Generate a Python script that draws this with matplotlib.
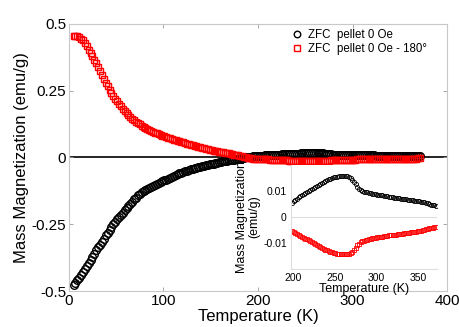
import numpy as np
import matplotlib

matplotlib.use("Agg")
import matplotlib.pyplot as plt

plt.rcParams["font.family"] = ["Liberation Sans", "DejaVu Sans"]

# temperature sweep (K), 2 K steps
temperature = np.arange(5, 372, 2)

# ZFC pellet 0 Oe (emu/g)
m_zfc = [
    -0.478, -0.469, -0.459, -0.450, -0.440, -0.429, -0.418, -0.406, -0.394, -0.383,
    -0.371, -0.360, -0.348, -0.337, -0.326, -0.315, -0.304, -0.292, -0.281, -0.270,
    -0.259, -0.248, -0.240, -0.232, -0.224, -0.216, -0.207, -0.198, -0.190, -0.182,
    -0.173, -0.165, -0.157, -0.150, -0.142, -0.136, -0.130, -0.125, -0.121, -0.117,
    -0.113, -0.109, -0.106, -0.103, -0.099, -0.096, -0.093, -0.089, -0.086, -0.083,
    -0.079, -0.076, -0.073, -0.069, -0.066, -0.063, -0.060, -0.057, -0.054, -0.052,
    -0.049, -0.046, -0.044, -0.042, -0.040, -0.038, -0.036, -0.034, -0.032, -0.031,
    -0.029, -0.027, -0.026, -0.024, -0.023, -0.021, -0.020, -0.018, -0.017, -0.015,
    -0.014, -0.013, -0.011, -0.010, -0.009, -0.0077, -0.0063, -0.005, -0.0037, -0.0023,
    -0.001, 0.0003, 0.0013, 0.0022, 0.0031, 0.0040, 0.0048, 0.0055, 0.0061, 0.0066,
    0.0071, 0.0076, 0.0081, 0.0085, 0.0089, 0.0093, 0.0096, 0.0100, 0.0103, 0.0107,
    0.0111, 0.0115, 0.0119, 0.0123, 0.0128, 0.0132, 0.0136, 0.0140, 0.0143, 0.0146,
    0.0148, 0.0150, 0.0152, 0.0153, 0.0154, 0.0156, 0.0157, 0.0158, 0.0158, 0.0158,
    0.0156, 0.0153, 0.0150, 0.0144, 0.0136, 0.0127, 0.0117, 0.0109, 0.0104, 0.0100,
    0.0098, 0.0096, 0.0095, 0.0093, 0.0091, 0.0090, 0.0088, 0.0087, 0.0086, 0.0085,
    0.0084, 0.0083, 0.0081, 0.0080, 0.0079, 0.0078, 0.0077, 0.0076, 0.0075, 0.0074,
    0.0073, 0.0072, 0.0071, 0.0070, 0.0069, 0.0068, 0.0067, 0.0066, 0.0065, 0.0064,
    0.0063, 0.0062, 0.0061, 0.0060, 0.0059, 0.0058, 0.0056, 0.0054, 0.0052, 0.0050,
    0.0048, 0.0047, 0.0045, 0.0043,
]

# ZFC pellet 0 Oe, sample rotated 180 deg (emu/g)
m_zfc_180 = [
    0.455, 0.456, 0.454, 0.450, 0.445, 0.438, 0.428, 0.416, 0.404, 0.392,
    0.379, 0.365, 0.352, 0.337, 0.323, 0.308, 0.294, 0.280, 0.267, 0.254,
    0.242, 0.230, 0.220, 0.210, 0.200, 0.191, 0.182, 0.173, 0.166, 0.158,
    0.152, 0.145, 0.139, 0.134, 0.129, 0.124, 0.119, 0.115, 0.111, 0.107,
    0.103, 0.099, 0.096, 0.093, 0.090, 0.087, 0.084, 0.081, 0.079, 0.076,
    0.073, 0.071, 0.069, 0.067, 0.065, 0.063, 0.061, 0.058, 0.056, 0.054,
    0.052, 0.050, 0.048, 0.046, 0.044, 0.042, 0.040, 0.038, 0.036, 0.034,
    0.032, 0.030, 0.029, 0.027, 0.026, 0.024, 0.023, 0.021, 0.020, 0.019,
    0.017, 0.016, 0.015, 0.013, 0.012, 0.0107, 0.0093, 0.008, 0.006, 0.004,
    0.002, 0.0003, -0.0012, -0.0025, -0.0035, -0.0042, -0.0048, -0.0053, -0.0057, -0.0061,
    -0.0065, -0.0069, -0.0073, -0.0076, -0.0080, -0.0083, -0.0086, -0.0090, -0.0093, -0.0096,
    -0.0100, -0.0103, -0.0107, -0.0111, -0.0115, -0.0118, -0.0122, -0.0125, -0.0128, -0.0131,
    -0.0133, -0.0136, -0.0138, -0.0140, -0.0141, -0.0142, -0.0143, -0.0144, -0.0144, -0.0144,
    -0.0143, -0.0142, -0.0139, -0.0134, -0.0126, -0.0118, -0.0109, -0.0102, -0.0097, -0.0094,
    -0.0091, -0.0089, -0.0087, -0.0085, -0.0084, -0.0082, -0.0081, -0.0080, -0.0078, -0.0077,
    -0.0076, -0.0075, -0.0074, -0.0073, -0.0072, -0.0071, -0.0071, -0.0070, -0.0069, -0.0068,
    -0.0067, -0.0066, -0.0065, -0.0064, -0.0063, -0.0062, -0.0061, -0.0060, -0.0059, -0.0058,
    -0.0057, -0.0056, -0.0054, -0.0053, -0.0052, -0.0050, -0.0049, -0.0047, -0.0046, -0.0044,
    -0.0042, -0.0041, -0.0039, -0.0038,
]

labels = ["ZFC  pellet 0 Oe", "ZFC  pellet 0 Oe - 180°"]

m_zfc = np.array(m_zfc)
m_zfc_180 = np.array(m_zfc_180)
spine_grey = "#c8c8c8"

fig = plt.figure(figsize=(4.59, 3.27), dpi=100)
ax = fig.add_axes([0.150, 0.110, 0.824, 0.817])

ax.plot(temperature, m_zfc, "o", mfc="none", mec="black", ms=5.5, mew=1.0,
        label=labels[0])
ax.plot(temperature, m_zfc_180, "s", mfc="none", mec="red", ms=5, mew=1.0,
        label=labels[1])
ax.axhline(0, color="black", lw=1.2, zorder=0)

ax.set_xlim(0, 400)
ax.set_ylim(-0.5, 0.5)
ax.set_xticks([0, 100, 200, 300, 400])
ax.set_yticks([-0.5, -0.25, 0, 0.25, 0.5])
ax.set_yticklabels(["-0.5", "-0.25", "0", "0.25", "0.5"])
ax.tick_params(direction="in", length=3, width=0.6, color="#999999",
               labelsize=11, top=True, right=True, pad=2)
for s in ax.spines.values():
    s.set_color(spine_grey)
    s.set_linewidth(0.8)
ax.set_xlabel("Temperature (K)", fontsize=12, labelpad=1)
ax.set_ylabel("Mass Magnetization (emu/g)", fontsize=12, labelpad=2)

ax.legend(loc="upper left", bbox_to_anchor=(0.574, 0.998), frameon=False,
          fontsize=8.3, handletextpad=0.35, labelspacing=0.15, borderaxespad=0,
          markerscale=0.85, handlelength=1.2)

# inset: zoom on 200-370 K
ins = fig.add_axes([291 / 459, 1 - 269 / 327, 146 / 459, 104 / 327])
ins.set_facecolor("white")
sel = temperature >= 198
ins.axhline(0, color="#dddddd", lw=0.8, zorder=0)
ins.plot(temperature[sel], m_zfc[sel], "o", mfc="none", mec="black", ms=3,
         mew=0.6)
ins.plot(temperature[sel], m_zfc_180[sel], "s", mfc="none", mec="red", ms=2.8,
         mew=0.6)
ins.set_xlim(198, 372)
ins.set_ylim(-0.02, 0.02)
ins.set_xticks([200, 250, 300, 350])
ins.set_yticks([-0.01, 0, 0.01])
ins.set_yticklabels(["-0.01", "0", "0.01"])
ins.tick_params(length=0, labelsize=7.5, pad=3)
for side in ["top", "right"]:
    ins.spines[side].set_visible(False)
for side in ["left", "bottom"]:
    ins.spines[side].set_color("#dddddd")
    ins.spines[side].set_linewidth(0.8)
ins.set_xlabel("Temperature (K)", fontsize=9, labelpad=0)
ins.set_ylabel("Mass Magnetization\n(emu/g)", fontsize=9, labelpad=2,
               linespacing=1.0)

fig.savefig("out.png", dpi=100, facecolor="white")
